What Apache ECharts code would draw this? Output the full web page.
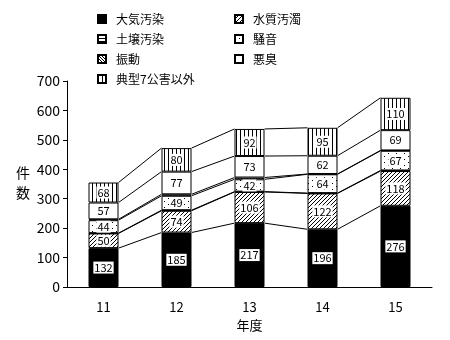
<!DOCTYPE html>
<html>
<head>
<meta charset="utf-8">
<script src="https://cdn.jsdelivr.net/npm/echarts@6/dist/echarts.min.js"></script>
<style>
  html, body { margin: 0; padding: 0; background: #fff; }
  #chart { width: 450px; height: 340px; }
</style>
</head>
<body>
<div id="chart"></div>
<script>
// 年度別 公害苦情件数（種類別）
const years = ['11', '12', '13', '14', '15'];
const seriesNames = ['大気汚染', '水質汚濁', '土壌汚染', '騒音', '振動', '悪臭', '典型7公害以外'];
const air       = [132, 185, 217, 196, 276];
const water     = [50, 74, 106, 122, 118];
const soil      = [1, 2, 1, 1, 2];
const noise     = [44, 49, 42, 64, 67];
const vibration = [3, 5, 6, 1, 1];
const odor      = [57, 77, 73, 62, 69];
const other     = [68, 80, 92, 95, 110];
const yTicks    = [0, 100, 200, 300, 400, 500, 600, 700];

const FONT = '"Noto Sans CJK JP", "Noto Sans", sans-serif';

// small bitmap tiles used as repeating fills
function tile(w, h, pixels) {
  const c = document.createElement('canvas');
  c.width = w; c.height = h;
  const g = c.getContext('2d');
  g.fillStyle = '#fff';
  g.fillRect(0, 0, w, h);
  g.fillStyle = '#000';
  pixels.forEach(p => g.fillRect(p[0], p[1], 1, 1));
  return { image: c, repeat: 'repeat' };
}
const patDiag   = tile(4, 4, [[3, 0], [2, 1], [1, 2], [0, 3]]);
const patHoriz  = tile(1, 3, [[0, 0]]);
const patDots   = tile(8, 6, [[0, 0], [4, 3]]);
const patDense  = tile(3, 3, [[0, 0], [1, 1], [2, 2]]);
const patVert   = tile(4, 1, [[0, 0]]);

const values = [air, water, soil, noise, vibration, odor, other];
const fills  = ['#000', patDiag, patHoriz, patDots, patDense, '#fff', patVert];
const labelled = [true, true, false, true, false, true, true];

const BAR_W = 30;

const barSeries = seriesNames.map((name, k) => ({
  name: name,
  type: 'bar',
  stack: 'total',
  barWidth: BAR_W,
  data: values[k],
  itemStyle: { color: fills[k], borderColor: '#000', borderWidth: 1 },
  label: {
    show: labelled[k],
    position: 'inside',
    color: '#000',
    backgroundColor: '#fff',
    padding: [1, 1, 0, 1],
    fontFamily: FONT,
    fontSize: 11
  },
  emphasis: { disabled: true },
  animation: false
}));

// cumulative tops of each stacked segment
const cumulative = years.map((_, i) => {
  let s = 0;
  return values.map(v => (s += v[i]));
});

// series lines joining each segment boundary of neighbouring bars
const connectors = {
  type: 'custom',
  silent: true,
  animation: false,
  data: years.slice(0, -1).map((_, i) => i),
  renderItem: function (params, api) {
    const i = api.value(0);
    const children = cumulative[i].map((c, k) => {
      const a = api.coord([i, c]);
      const b = api.coord([i + 1, cumulative[i + 1][k]]);
      return {
        type: 'line',
        shape: { x1: a[0] + BAR_W / 2, y1: a[1], x2: b[0] - BAR_W / 2, y2: b[1] },
        style: { stroke: '#000', lineWidth: 1 }
      };
    });
    return { type: 'group', children: children };
  },
  encode: { x: 0, y: 0 },
  z: 1
};

const legendCommon = {
  orient: 'vertical',
  top: 8,
  itemWidth: 8,
  itemHeight: 8,
  itemGap: 8,
  icon: 'rect',
  selectedMode: false,
  textStyle: { fontFamily: FONT, fontSize: 12, color: '#000', padding: [0, 0, 0, 5] }
};

const option = {
  animation: false,
  backgroundColor: '#fff',
  grid: { left: 67, right: 18, top: 81, bottom: 53 },
  legend: [
    Object.assign({ left: 92, data: ['大気汚染', '土壌汚染', '振動', '典型7公害以外'] }, legendCommon),
    Object.assign({ left: 229, data: ['水質汚濁', '騒音', '悪臭'] }, legendCommon)
  ],
  xAxis: {
    type: 'category',
    data: years,
    name: '年度',
    nameLocation: 'middle',
    nameGap: 32,
    nameTextStyle: { fontFamily: FONT, fontSize: 13, color: '#000' },
    axisLine: { lineStyle: { color: '#000', width: 1 } },
    axisTick: { show: false },
    axisLabel: { fontFamily: FONT, fontSize: 13, color: '#000', margin: 14 }
  },
  yAxis: {
    type: 'value',
    min: yTicks[0],
    max: yTicks[yTicks.length - 1],
    interval: 100,
    axisLine: { show: true, lineStyle: { color: '#000', width: 1 } },
    axisTick: { show: true, length: 4, lineStyle: { color: '#000' } },
    splitLine: { show: false },
    axisLabel: { fontFamily: FONT, fontSize: 14, color: '#000', margin: 7 }
  },
  graphic: [{
    type: 'text',
    left: 16,
    top: 163,
    style: { text: '件\n数', font: '14px ' + FONT, fill: '#000', lineHeight: 20 }
  }],
  series: barSeries.concat([connectors])
};

const chart = echarts.init(document.getElementById('chart'), null, { renderer: 'canvas' });
chart.setOption(option);
</script>
</body>
</html>
